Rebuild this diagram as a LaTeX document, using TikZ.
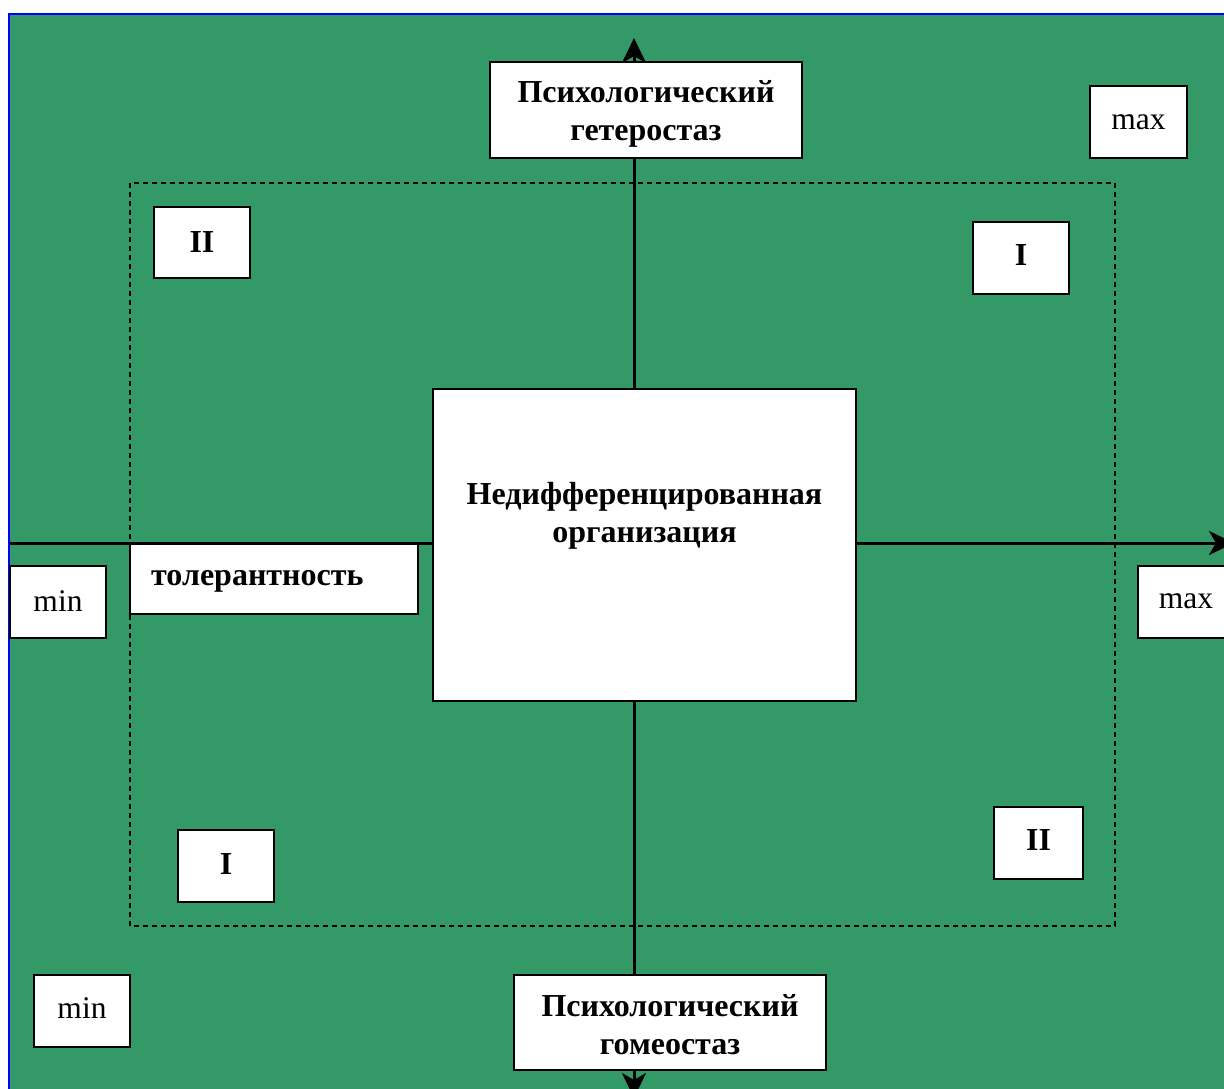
\documentclass[tikz,border=0pt]{standalone}
\usepackage{fontspec}
\setmainfont{Liberation Serif}
\usetikzlibrary{arrows.meta}
\definecolor{bggreen}{RGB}{51,153,102}
\definecolor{edgeblue}{RGB}{0,0,255}
\tikzset{
  box/.style={draw=black, fill=white, line width=2pt, inner sep=0pt, rectangle},
  bigtxt/.style={font=\fontsize{32}{38}\selectfont\bfseries, align=center},
  smalltxt/.style={font=\fontsize{31.5}{38}\selectfont},
  axis/.style={line width=3pt, draw=black},
  tipstyle/.style={-{Stealth[length=25pt,width=24pt,inset=7pt]}},
}
\begin{document}
\begin{tikzpicture}[x=1pt,y=-1pt]
\useasboundingbox (0,0) rectangle (1224,1088);
\clip (0,0) rectangle (1224,1088);
% background
\fill[bggreen] (9,14) rectangle (1240,1100);
\draw[edgeblue, line width=2.5pt] (9,1100) -- (9,14) -- (1240,14);
% dashed frame
\draw[dashed, dash pattern=on 5pt off 4pt, line width=1.5pt] (130,183) rectangle (1115,926);
% axis end coordinates
\coordinate (ytop) at (634,38);
\coordinate (ybot) at (634,1098);
\coordinate (ymid) at (634,545);
\coordinate (xleft) at (10,543);
\coordinate (xright) at (1234,543);
\draw[axis, tipstyle] (ymid) -- (ytop);
\draw[axis, tipstyle] (ymid) -- (ybot);
\draw[axis, tipstyle] (xleft) -- (xright);
% boxes
\node[box, minimum width=312pt, minimum height=96pt] (hetero) at (646,110) {};
\node[bigtxt, inner sep=0pt] (heterotxt) at (646,114) {Психологический\\гетеростаз};
\node[box, minimum width=97pt, minimum height=72pt, smalltxt] (maxtr) at (1138.5,122) {max};
\node[box, minimum width=96pt, minimum height=71pt, bigtxt] (iia) at (202,242.5) {II};
\node[box, minimum width=96pt, minimum height=72pt, bigtxt] (ia) at (1021,258) {\raisebox{5pt}{I}};
\node[box, minimum width=423pt, minimum height=312pt] (center) at (644.5,545) {};
\node[bigtxt, inner sep=0pt] (centertxt) at (644.5,516) {Недифференцированная\\организация};
\node[box, minimum width=288pt, minimum height=70pt] (tol) at (274,578.5) {};
\node[bigtxt, inner sep=0pt, anchor=west] (toltxt) at (151,581) {толерантность};
\node[box, minimum width=96pt, minimum height=72pt, smalltxt] (minl) at (58,602) {\raisebox{2pt}{min}};
\node[box, minimum width=96pt, minimum height=72pt, smalltxt] (maxr) at (1186,602) {\raisebox{2pt}{max}};
\node[box, minimum width=96pt, minimum height=72pt, bigtxt] (ib) at (226,866) {\raisebox{4pt}{I}};
\node[box, minimum width=89pt, minimum height=72pt, bigtxt] (iib) at (1038.5,843) {\raisebox{5pt}{II}};
\node[box, minimum width=96pt, minimum height=72pt, smalltxt] (minb) at (82,1011) {\raisebox{6pt}{min}};
\node[box, minimum width=312pt, minimum height=95pt] (homeo) at (670,1022.5) {};
\node[bigtxt, inner sep=0pt] (homeotxt) at (670,1025) {Психологический\\гомеостаз};
\end{tikzpicture}
\end{document}
